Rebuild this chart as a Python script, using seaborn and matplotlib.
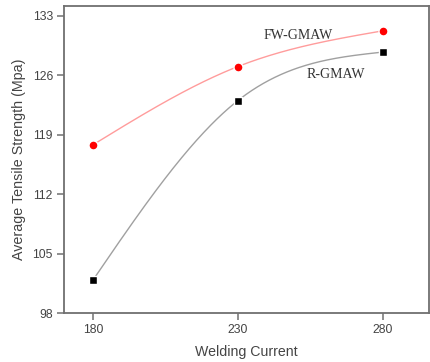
import numpy as np
import pandas as pd
import matplotlib
matplotlib.use("Agg")
import matplotlib.pyplot as plt
import seaborn as sns

# DATA
CURRENT = [180, 230, 280]
FW_GMAW = [117.8, 127.0, 131.2]
R_GMAW = [101.9, 123.0, 128.7]
Y_TICKS = [98, 105, 112, 119, 126, 133]
X_TICKS = [180, 230, 280]


def natural_spline(x, y, n=200):
    """Natural cubic spline through the points (like Origin's spline connect)."""
    x = np.asarray(x, float)
    y = np.asarray(y, float)
    k = len(x)
    h = np.diff(x)
    A = np.zeros((k, k))
    b = np.zeros(k)
    A[0, 0] = A[-1, -1] = 1
    for i in range(1, k - 1):
        A[i, i - 1] = h[i - 1]
        A[i, i] = 2 * (h[i - 1] + h[i])
        A[i, i + 1] = h[i]
        b[i] = 6 * ((y[i + 1] - y[i]) / h[i] - (y[i] - y[i - 1]) / h[i - 1])
    M = np.linalg.solve(A, b)
    xs = np.linspace(x[0], x[-1], n)
    idx = np.clip(np.searchsorted(x, xs) - 1, 0, k - 2)
    x0, x1 = x[idx], x[idx + 1]
    hh = x1 - x0
    t0 = x1 - xs
    t1 = xs - x0
    ys = (M[idx] * t0**3 + M[idx + 1] * t1**3) / (6 * hh) \
        + (y[idx] / hh - M[idx] * hh / 6) * t0 \
        + (y[idx + 1] / hh - M[idx + 1] * hh / 6) * t1
    return xs, ys


sns.set_style("white")
plt.rcParams['font.family'] = ['Liberation Sans', 'DejaVu Sans']

fig = plt.figure(figsize=(4.3, 3.62), dpi=100)
ax = fig.add_axes([0.149, 0.135, 0.849, 0.848])

xs, ys = natural_spline(CURRENT, FW_GMAW)
sns.lineplot(x=xs, y=ys, ax=ax, color="#ff9c9c", linewidth=1.0)
xs, ys = natural_spline(CURRENT, R_GMAW)
sns.lineplot(x=xs, y=ys, ax=ax, color="#a0a0a0", linewidth=1.0)

sns.scatterplot(x=CURRENT, y=FW_GMAW, ax=ax, marker="o", s=42, color="#ff0000",
                edgecolor="white", linewidth=1.0, zorder=5)
sns.scatterplot(x=CURRENT, y=R_GMAW, ax=ax, marker="s", s=34, color="#000000",
                edgecolor="white", linewidth=1.0, zorder=5)

ax.text(250.7, 130.65, "FW-GMAW", family=['Liberation Serif'], fontsize=10,
        color="#333333", ha="center", va="center")
ax.text(263.8, 126.1, "R-GMAW", family=['Liberation Serif'], fontsize=10,
        color="#333333", ha="center", va="center")

ax.set_xlim(170, 296)
ax.set_ylim(98, 134.1)
ax.set_xticks(X_TICKS)
ax.set_yticks(Y_TICKS)
ax.set_xticklabels([str(v) for v in X_TICKS])
ax.set_yticklabels([str(v) for v in Y_TICKS])

for s in ax.spines.values():
    s.set_color("#707070")
    s.set_linewidth(1.3)

ax.tick_params(axis="both", direction="out", length=5, width=1.1, color="#707070",
               labelsize=8.8, labelcolor="#444444", pad=3,
               bottom=True, left=True, top=False, right=False)

ax.set_xlabel("Welding Current", fontsize=10.2, color="#444444", labelpad=6)
ax.set_ylabel("Average Tensile Strength (Mpa)", fontsize=10.3, color="#444444", labelpad=5)

fig.savefig("out.png", dpi=100)
